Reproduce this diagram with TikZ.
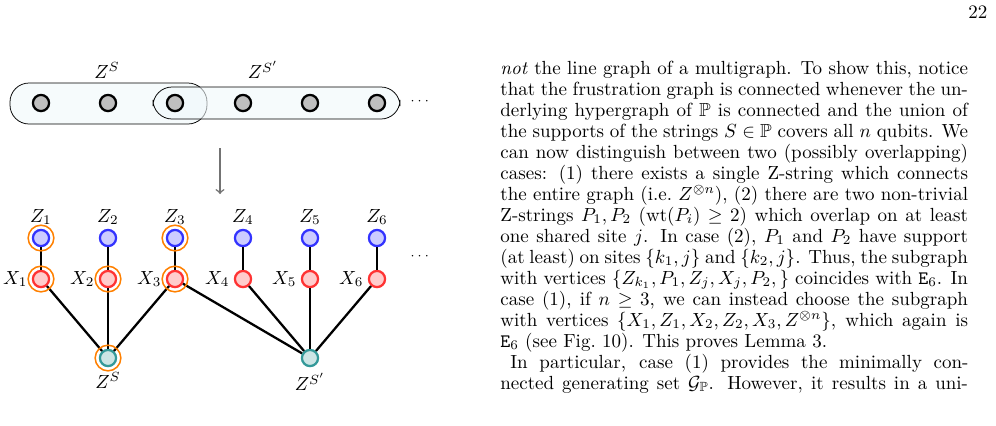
\documentclass[tikz,border=0pt]{standalone}
\usepackage{amsfonts,amsmath,amssymb}
\usepackage{tikz}
\usetikzlibrary{calc}

\begin{document}
\begin{tikzpicture}[x=0.526pt,y=-0.526pt,
            site-node/.style={circle,draw=black,very thick,fill=black!25,minimum size=8.5pt,inner sep=0},
            z-node/.style={circle,draw=blue!80,very thick,fill=blue!20,minimum size=8.5pt,inner sep=0},
            x-node/.style={circle,draw=red!80,very thick,fill=red!20,minimum size=8.5pt,inner sep=0},
            p-node/.style={circle,draw=teal!80,very thick,fill=teal!20,minimum size=8.5pt,inner sep=0},
            ring/.style={circle,draw=orange,thick,minimum size=13.5pt,inner sep=0},
            pill/.style={draw=black,rounded corners=10pt,fill=cyan!40!teal!6,fill opacity=0.6},
            txt/.style={anchor=base west,inner sep=0,font=\normalsize},
        ]
            \useasboundingbox (0,0) rectangle (996,425);

            % hypergraph
            \draw[pill] (10,83) rectangle (207,124);
            \draw[pill] (153,87) rectangle (400,119);
            \foreach \i/\x in {1/41,2/108,3/175,4/243,5/310,6/377}
                \node[site-node] (s\i) at (\x,103) {};
            \node (zs) at (107,70) {$Z^S$};
            \node (zsp) at (263,70) {$Z^{S'}$};
            \node (dots1) at (421,101) {\scriptsize$\cdots$};

            \node (a1) at (220,148) {};
            \node (a2) at (220,194) {};
            \draw[->,black!55,thick] (a1.center) -- (a2.center);

            % frustration graph
            \foreach \i/\x in {1/41,2/108,3/175,4/243,5/310,6/377} {
                \node[z-node] (z\i) at (\x,238) {};
                \node[x-node] (x\i) at (\x,279) {};
                \node (zl\i) at (\x,217) {$Z_{\i}$};
                \node[anchor=east] (xl\i) at (\x-7,279) {$X_{\i}$};
                \draw[very thick] (z\i) -- (x\i);
            }
            \node[p-node] (p1) at (108,358) {};
            \node[p-node] (p2) at (310,358) {};
            \node (pl1) at (108,380) {$Z^S$};
            \node (pl2) at (310,382) {$Z^{S'}$};
            \node (dots2) at (421,256) {\scriptsize$\cdots$};

            \foreach \i in {1,2,3}
                \draw[very thick] (x\i) -- (p1);
            \foreach \i in {3,4,5,6}
                \draw[very thick] (x\i) -- (p2);

            \foreach \n in {z1,x1,x2,z3,x3,p1}
                \node[ring] at (\n) {};

            % page text
            \node[txt] (pg) at (968,18) {22};
            \node[txt] (l1) at (500,74) {\makebox[246pt][s]{\emph{not} the line graph of a multigraph. To show this, notice}};
            \node[txt] (l2) at (500,95) {\makebox[246pt][s]{that the frustration graph is connected whenever the un-}};
            \node[txt] (l3) at (500,116) {\makebox[246pt][s]{derlying hypergraph of $\mathbb{P}$ is connected and the union of}};
            \node[txt] (l4) at (500,137) {\makebox[246pt][s]{the supports of the strings $S\in\mathbb{P}$ covers all $n$ qubits. We}};
            \node[txt] (l5) at (500,158) {\makebox[246pt][s]{can now distinguish between two (possibly overlapping)}};
            \node[txt] (l6) at (500,179) {\makebox[246pt][s]{cases: (1) there exists a single Z-string which connects}};
            \node[txt] (l7) at (500,200) {\makebox[246pt][s]{the entire graph (i.e.\ $Z^{\otimes n}$), (2) there are two non-trivial}};
            \node[txt] (l8) at (500,221) {\makebox[246pt][s]{Z-strings $P_1, P_2$ (wt$(P_i)\geq 2$) which overlap on at least}};
            \node[txt] (l9) at (500,242) {\makebox[246pt][s]{one shared site $j$. In case (2), $P_1$ and $P_2$ have support}};
            \node[txt] (l10) at (500,263) {\makebox[246pt][s]{(at least) on sites $\{k_1,j\}$ and $\{k_2,j\}$. Thus, the subgraph}};
            \node[txt] (l11) at (500,284) {\makebox[246pt][s]{with vertices $\{Z_{k_1},P_1,Z_j,X_j,P_2,\}$ coincides with $\mathtt{E}_6$. In}};
            \node[txt] (l12) at (500,305) {\makebox[246pt][s]{case (1), if $n\geq 3$, we can instead choose the subgraph}};
            \node[txt] (l13) at (500,326) {\makebox[246pt][s]{with vertices $\{X_1,Z_1,X_2,Z_2,X_3,Z^{\otimes n}\}$, which again is}};
            \node[txt] (l14) at (500,347) {$\mathtt{E}_6$ (see Fig.~10). This proves Lemma 3.};
            \node[txt] (l15) at (510,368) {\makebox[241pt][s]{In particular, case (1) provides the minimally con-}};
            \node[txt] (l16) at (500,389) {\makebox[246pt][s]{nected generating set $\mathcal{G}_{\mathbb{P}}$. However, it results in a uni-}};
        \end{tikzpicture}
\end{document}
